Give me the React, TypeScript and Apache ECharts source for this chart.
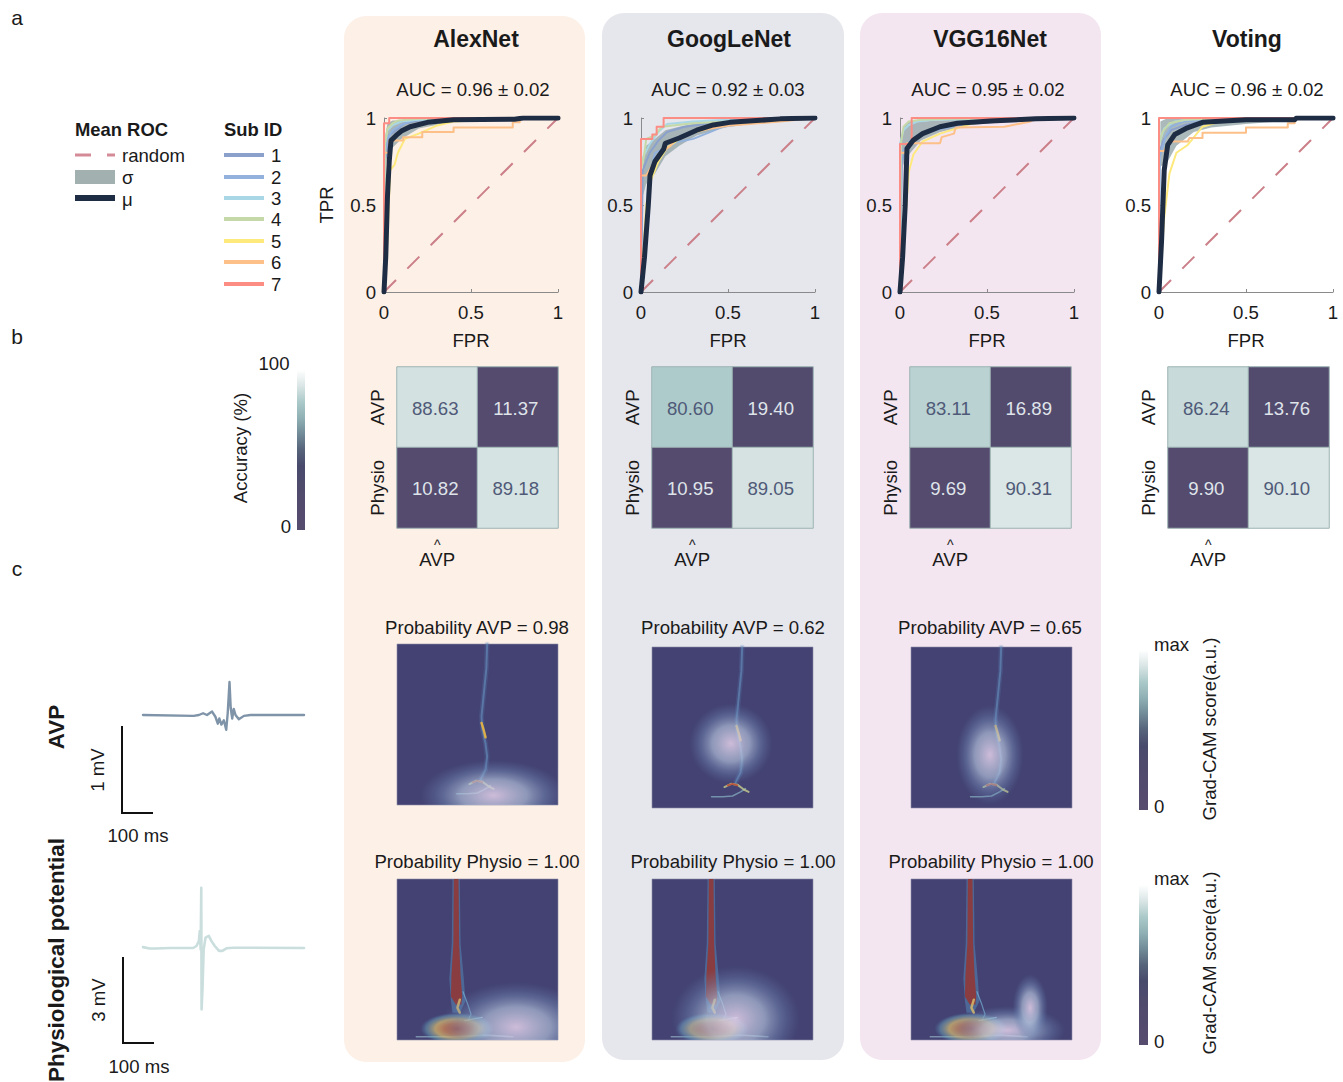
import React, { useEffect, useRef } from "react";
import * as echarts from "echarts";

const FONT = "Liberation Sans";
const BODY = 18.6;

// ---------- names ----------
const modelNames = ["AlexNet", "GoogLeNet", "VGG16Net", "Voting"];
const aucLabels = ["AUC = 0.96 ± 0.02", "AUC = 0.92 ± 0.03", "AUC = 0.95 ± 0.02", "AUC = 0.96 ± 0.02"];
const subIds = ["1", "2", "3", "4", "5", "6", "7"];
const probAvp = ["Probability AVP = 0.98", "Probability AVP = 0.62", "Probability AVP = 0.65"];
const probPhysio = ["Probability Physio = 1.00", "Probability Physio = 1.00", "Probability Physio = 1.00"];
const predictedLabels = ["AVP", "Physio"];
const trueLabels = ["Physio", "AVP"];

// ---------- confusion matrices: [AVP→AVP, AVP→Physio, Physio→AVP, Physio→Physio] ----------
const alexConfusion = [88.63, 11.37, 10.82, 89.18];
const googConfusion = [80.6, 19.4, 10.95, 89.05];
const vggConfusion = [83.11, 16.89, 9.69, 90.31];
const votingConfusion = [86.24, 13.76, 9.9, 90.1];

// ---------- ROC: mean curves ----------
const alexMean = [[0, 0], [0.01, 0.2], [0.02, 0.55], [0.03, 0.75], [0.04, 0.87], [0.07, 0.9], [0.1, 0.925], [0.15, 0.95], [0.25, 0.975], [0.4, 0.99], [0.75, 0.993], [0.8, 1], [1, 1]];
const googMean = [[0, 0], [0.02, 0.2], [0.042, 0.5], [0.052, 0.67], [0.08, 0.75], [0.13, 0.82], [0.14, 0.855], [0.22, 0.885], [0.32, 0.93], [0.415, 0.96], [0.51, 0.975], [0.8, 0.995], [1, 1]];
const vggMean = [[0, 0], [0.015, 0.2], [0.03, 0.5], [0.04, 0.825], [0.077, 0.873], [0.13, 0.91], [0.23, 0.95], [0.33, 0.97], [0.52, 0.983], [0.78, 0.995], [1, 1]];
const votingMean = [[0, 0], [0.015, 0.3], [0.03, 0.7], [0.05, 0.845], [0.09, 0.905], [0.155, 0.94], [0.25, 0.975], [0.5, 0.99], [0.78, 0.99], [0.79, 1], [1, 1]];

// ---------- ROC: sigma bands [fpr, low, high] ----------
const alexBand = [[0.008, 0.7, 0.9], [0.02, 0.8, 0.97], [0.05, 0.83, 0.985], [0.1, 0.88, 0.985], [0.2, 0.94, 0.995], [0.4, 0.98, 0.998], [0.7, 0.99, 1], [1, 1, 1]];
const googBand = [[0.01, 0.55, 0.72], [0.03, 0.62, 0.84], [0.08, 0.68, 0.88], [0.14, 0.78, 0.93], [0.22, 0.84, 0.95], [0.32, 0.9, 0.97], [0.5, 0.95, 0.99], [0.7, 0.98, 1], [1, 1, 1]];
const vggBand = [[0.008, 0.7, 0.9], [0.03, 0.76, 0.96], [0.06, 0.8, 0.98], [0.12, 0.87, 0.98], [0.23, 0.92, 0.985], [0.4, 0.96, 0.995], [0.7, 0.985, 1], [1, 1, 1]];
const votingBand = [[0.008, 0.72, 0.98], [0.05, 0.75, 1], [0.1, 0.84, 1], [0.2, 0.92, 0.995], [0.3, 0.945, 0.99], [0.5, 0.965, 0.99], [0.75, 0.985, 0.995], [1, 1, 1]];

// ---------- ROC: subject curves ----------
const alexSub1 = [[0, 0], [0, 0.75], [0.02, 0.8], [0.03, 0.9], [0.07, 0.93], [0.12, 0.97], [0.2, 0.985], [0.35, 0.99], [1, 1]];
const alexSub2 = [[0, 0], [0.005, 0.8], [0.02, 0.88], [0.05, 0.93], [0.1, 0.96], [0.17, 0.99], [0.3, 0.995], [1, 1]];
const alexSub3 = [[0, 0], [0.005, 0.85], [0.02, 0.93], [0.05, 0.96], [0.1, 0.98], [0.2, 0.99], [1, 1]];
const alexSub4 = [[0, 0], [0.005, 0.85], [0.02, 0.94], [0.05, 0.97], [0.08, 0.985], [0.2, 0.995], [1, 1]];
const alexSub5 = [[0, 0], [0.02, 0.3], [0.035, 0.7], [0.06, 0.73], [0.08, 0.8], [0.12, 0.88], [0.2, 0.91], [0.3, 0.955], [0.4, 0.98], [0.6, 0.99], [1, 1]];
const alexSub6 = [[0, 0], [0, 0.8], [0.03, 0.8], [0.03, 0.87], [0.11, 0.87], [0.11, 0.89], [0.22, 0.89], [0.22, 0.92], [0.4, 0.92], [0.4, 0.945], [0.74, 0.945], [0.74, 0.975], [0.78, 0.975], [0.78, 1], [1, 1]];
const alexSub7 = [[0, 0], [0, 0.97], [0.03, 0.97], [0.03, 1], [1, 1]];

const googSub1 = [[0, 0], [0.01, 0.7], [0.05, 0.8], [0.1, 0.87], [0.15, 0.92], [0.25, 0.95], [0.4, 0.97], [0.6, 0.99], [1, 1]];
const googSub2 = [[0, 0], [0.04, 0.6], [0.08, 0.8], [0.15, 0.83], [0.2, 0.86], [0.3, 0.88], [0.4, 0.92], [0.47, 0.95], [0.62, 0.97], [1, 1]];
const googSub3 = [[0, 0], [0, 0.75], [0.05, 0.85], [0.1, 0.92], [0.15, 0.965], [0.3, 0.98], [0.5, 0.99], [1, 1]];
const googSub4 = [[0, 0], [0, 0.7], [0.02, 0.8], [0.03, 0.88], [0.08, 0.9], [0.12, 0.95], [0.3, 0.97], [0.5, 0.98], [1, 1]];
const googSub5 = [[0, 0], [0.03, 0.5], [0.06, 0.65], [0.1, 0.75], [0.15, 0.83], [0.25, 0.9], [0.35, 0.93], [0.5, 0.97], [1, 1]];
const googSub6 = [[0, 0], [0, 0.67], [0.03, 0.67], [0.06, 0.72], [0.11, 0.8], [0.17, 0.84], [0.2, 0.88], [0.3, 0.92], [0.4, 0.94], [0.5, 0.955], [0.8, 0.98], [1, 1]];
const googSub7 = [[0, 0], [0, 0.88], [0.065, 0.88], [0.065, 0.905], [0.09, 0.905], [0.09, 0.95], [0.13, 0.95], [0.13, 1], [1, 1]];

const vggSub1 = [[0, 0], [0.01, 0.75], [0.04, 0.82], [0.08, 0.88], [0.15, 0.92], [0.3, 0.96], [0.5, 0.98], [1, 1]];
const vggSub2 = [[0, 0], [0.01, 0.8], [0.05, 0.86], [0.1, 0.9], [0.2, 0.93], [0.4, 0.97], [0.6, 0.98], [1, 1]];
const vggSub3 = [[0, 0], [0, 0.85], [0.02, 0.93], [0.05, 0.96], [0.1, 0.98], [0.2, 0.99], [1, 1]];
const vggSub4 = [[0, 0], [0.005, 0.85], [0.02, 0.95], [0.05, 0.98], [0.12, 0.99], [0.3, 0.995], [1, 1]];
const vggSub5 = [[0, 0], [0.03, 0.4], [0.05, 0.69], [0.077, 0.79], [0.13, 0.865], [0.23, 0.91], [0.42, 0.97], [0.6, 0.985], [1, 1]];
const vggSub6 = [[0, 0], [0, 0.8], [0.03, 0.8], [0.04, 0.855], [0.23, 0.855], [0.24, 0.89], [0.31, 0.91], [0.32, 0.945], [0.6, 0.95], [0.75, 0.98], [0.78, 1], [1, 1]];
const vggSub7 = [[0, 0], [0, 0.85], [0.067, 0.85], [0.067, 1], [1, 1]];

const votingSub1 = [[0, 0], [0, 0.8], [0.03, 0.88], [0.07, 0.93], [0.15, 0.96], [0.25, 0.98], [1, 1]];
const votingSub2 = [[0, 0], [0.005, 0.78], [0.04, 0.9], [0.07, 0.95], [0.14, 0.98], [0.3, 0.99], [1, 1]];
const votingSub3 = [[0, 0], [0, 0.85], [0.03, 0.94], [0.09, 0.98], [0.2, 0.995], [1, 1]];
const votingSub4 = [[0, 0], [0, 0.85], [0.02, 0.92], [0.06, 0.97], [0.15, 0.99], [0.3, 0.995], [1, 1]];
const votingSub5 = [[0, 0], [0.03, 0.43], [0.06, 0.68], [0.1, 0.8], [0.165, 0.845], [0.25, 0.95], [0.35, 0.98], [0.6, 0.99], [1, 1]];
const votingSub6 = [[0, 0], [0, 0.81], [0.03, 0.81], [0.06, 0.865], [0.165, 0.865], [0.175, 0.885], [0.25, 0.885], [0.25, 0.915], [0.5, 0.915], [0.5, 0.945], [0.74, 0.945], [0.74, 0.97], [0.78, 0.97], [0.78, 1], [1, 1]];
const votingSub7 = [[0, 0], [0, 1], [1, 1]];

const randomLine = [[0, 0], [1, 1]];

// ---------- example waveforms [ms, mV] ----------
const avpTrace = [[0, 0], [169, -0.01], [186, 0], [200, 0.02], [213, 0], [230, 0.04], [241, -0.02], [249, -0.1], [254, -0.04], [261, -0.11], [269, -0.06], [277, -0.17], [282, 0.02], [288, 0.38], [292, 0.08], [297, -0.04], [302, 0.07], [308, 0], [319, -0.05], [336, -0.01], [358, 0], [536, 0]];
const physioTrace = [[0, 0.03], [22, -0.02], [44, -0.02], [89, 0], [167, 0], [178, 0.07], [186, 0.24], [189, 0.59], [192, -0.05], [194, 2.1], [195, -2.14], [198, -1.44], [202, -0.05], [208, 0.36], [219, 0.42], [228, 0.24], [239, 0.07], [253, -0.1], [264, -0.1], [278, -0.01], [300, 0.01], [536, 0]];

// ---------- Grad-CAM overlays: glows [x, y, w, h] in panel units ----------
const alexAvpGlow = [[0.6, 0.06, 0.92, 0.44]];
const googAvpGlow = [[0.49, 0.4, 0.52, 0.5]];
const vggAvpGlow = [[0.49, 0.33, 0.42, 0.62]];
const alexPhysioGlow = [[0.74, 0.08, 0.95, 0.56]];
const googPhysioGlow = [[0.52, 0.13, 0.8, 0.66]];
const vggPhysioGlow = [[0.6, 0.06, 0.72, 0.3], [0.74, 0.2, 0.22, 0.42]];

// shared activation traces in panel units
const avpRidge = [[0.56, 1], [0.555, 0.85], [0.54, 0.7], [0.525, 0.55], [0.53, 0.47], [0.55, 0.38], [0.56, 0.3], [0.55, 0.22], [0.52, 0.16]];
const avpSpot = [[0.525, 0.51], [0.54, 0.46], [0.55, 0.42]];
const avpArcUpper = [[0.45, 0.13], [0.49, 0.15], [0.53, 0.145], [0.57, 0.115], [0.6, 0.1]];
const avpArcLower = [[0.37, 0.07], [0.44, 0.07], [0.5, 0.075], [0.55, 0.1], [0.58, 0.12]];
const avpBaseSpot = [[0.47, 0.14], [0.5, 0.15], [0.53, 0.14]];
const physioHalo = [[1, 0.345, 0.39], [0.6, 0.34, 0.395], [0.38, 0.325, 0.415], [0.24, 0.335, 0.425], [0.17, 0.345, 0.39]];
const physioCore = [[1, 0.353, 0.382], [0.6, 0.35, 0.386], [0.4, 0.338, 0.395], [0.27, 0.335, 0.405], [0.22, 0.365, 0.4]];
const physioNeck = [[0.39, 0.25], [0.375, 0.2], [0.39, 0.17]];
const physioTail = [[0.12, 0.02], [0.35, 0.02], [0.55, 0.03], [0.72, 0.02]];
const physioTwig = [[0.42, 0.12], [0.47, 0.13], [0.53, 0.14]];
const physioTwig2 = [[0.41, 0.3], [0.44, 0.22], [0.46, 0.16], [0.44, 0.12]];
const physioBaseSpot = [[0.375, 0.07, 0.46, 0.2]];

const SUB_COLORS = ["#8ba1cc", "#92b2dd", "#a9d7e6", "#c5d8a8", "#fde97c", "#fcc088", "#fb8d85"];
const CMAP = ["#564c6e", "#544b6e", "#524b6d", "#4e4b6d", "#484a6c", "#56637a", "#718b98", "#8fb0b4", "#abc9c9", "#dae5e5", "#ffffff"];
const CAM_BASE = "#434272";
const CAM_SIZE = 161;

// ---------- layout ----------
const rocLeft = [384, 641, 900, 1159];
const rocMeta = [
  { mean: alexMean, band: alexBand, subs: [alexSub1, alexSub2, alexSub3, alexSub4, alexSub5, alexSub6, alexSub7] },
  { mean: googMean, band: googBand, subs: [googSub1, googSub2, googSub3, googSub4, googSub5, googSub6, googSub7] },
  { mean: vggMean, band: vggBand, subs: [vggSub1, vggSub2, vggSub3, vggSub4, vggSub5, vggSub6, vggSub7] },
  { mean: votingMean, band: votingBand, subs: [votingSub1, votingSub2, votingSub3, votingSub4, votingSub5, votingSub6, votingSub7] },
];
const confLeft = [397, 652, 910, 1168];
const confValues = [alexConfusion, googConfusion, vggConfusion, votingConfusion];
const camBoxes = [
  { x: 397, y: 644, glow: alexAvpGlow, kind: "avp" },
  { x: 652, y: 647, glow: googAvpGlow, kind: "avp" },
  { x: 911, y: 647, glow: vggAvpGlow, kind: "avp" },
  { x: 397, y: 879, glow: alexPhysioGlow, kind: "physio" },
  { x: 652, y: 879, glow: googPhysioGlow, kind: "physio" },
  { x: 911, y: 879, glow: vggPhysioGlow, kind: "physio" },
];

function txt(text: string, x: number, y: number, size: number, opts: any = {}) {
  return {
    type: "text",
    x,
    y,
    z: 5,
    rotation: opts.rot ? Math.PI / 2 : 0,
    silent: true,
    style: {
      text,
      fontSize: size,
      fontFamily: FONT,
      fontWeight: opts.bold ? "bold" : "normal",
      fill: opts.fill || "#1a1a1a",
      textAlign: opts.align || "center",
      textVerticalAlign: "middle",
      align: opts.align || "center",
      verticalAlign: "middle",
    },
  };
}

function bar(x: number, y: number, width = 9) {
  return {
    type: "rect",
    z: 1,
    silent: true,
    shape: { x, y, width, height: 160 },
    style: {
      fill: new echarts.graphic.LinearGradient(0, 1, 0, 0, CMAP.map((color, i) => ({ offset: i / 10, color }))),
    },
  };
}

function bandSeries(grid: number, rows: number[][], fill: string, vertical = false, z = 2) {
  return {
    type: "custom",
    coordinateSystem: "cartesian2d",
    xAxisIndex: grid,
    yAxisIndex: grid,
    data: rows,
    silent: true,
    z,
    renderItem: (params: any, api: any) => {
      if (params.dataIndex !== 0) return null;
      const a = rows.map((r) => api.coord(vertical ? [r[1], r[0]] : [r[0], r[2]]));
      const b = rows.map((r) => api.coord(vertical ? [r[2], r[0]] : [r[0], r[1]])).reverse();
      return { type: "polygon", shape: { points: [...a, ...b] }, style: { fill } };
    },
  };
}

function lineSeries(grid: number, data: number[][], color: string, width: number, extra: any = {}) {
  return {
    type: "line",
    xAxisIndex: grid,
    yAxisIndex: grid,
    data,
    symbol: "none",
    silent: true,
    smooth: false,
    lineStyle: { color, width, join: "round", cap: "round", ...(extra.line || {}) },
    z: extra.z || 2,
  };
}

function glowSeries(grid: number, data: number[][], colorStops: any[]) {
  return {
    type: "custom",
    coordinateSystem: "cartesian2d",
    xAxisIndex: grid,
    yAxisIndex: grid,
    data,
    silent: true,
    clip: true,
    z: 3,
    renderItem: (_params: any, api: any) => {
      const c = api.coord([api.value(0), api.value(1)]);
      return {
        type: "ellipse",
        shape: { cx: c[0], cy: c[1], rx: (api.value(2) * CAM_SIZE) / 2, ry: (api.value(3) * CAM_SIZE) / 2 },
        style: { fill: { type: "radial", x: 0.5, y: 0.5, r: 0.5, colorStops } },
      };
    },
  };
}

const GLOW_STOPS = [
  { offset: 0, color: "rgba(228,208,234,0.86)" },
  { offset: 0.45, color: "rgba(178,192,218,0.68)" },
  { offset: 0.78, color: "rgba(112,140,185,0.32)" },
  { offset: 1, color: "rgba(100,120,170,0)" },
];
const HOT_STOPS = [
  { offset: 0, color: "rgba(168,85,70,0.95)" },
  { offset: 0.35, color: "rgba(192,120,80,0.9)" },
  { offset: 0.6, color: "rgba(214,184,110,0.75)" },
  { offset: 0.85, color: "rgba(110,170,190,0.45)" },
  { offset: 1, color: "rgba(80,130,180,0)" },
];

function buildOption() {
  const grids: any[] = [];
  const xAxes: any[] = [];
  const yAxes: any[] = [];
  const series: any[] = [];

  const hiddenAxis = (min: number, max: number, gridIndex: number) => ({
    type: "value",
    min,
    max,
    gridIndex,
    show: false,
    splitLine: { show: false },
  });

  // ROC grids 0-3
  const rocAxisBase = {
    type: "value",
    min: 0,
    max: 1,
    interval: 0.5,
    splitLine: { show: false },
    axisLine: { show: true, lineStyle: { color: "#8a8a8a", width: 1 } },
    axisTick: { show: true, inside: true, length: 3, lineStyle: { color: "#8a8a8a" } },
  };
  rocLeft.forEach((left, g) => {
    grids.push({ left, top: 118, width: 174, height: 174 });
    xAxes.push({
      ...rocAxisBase,
      gridIndex: g,
      name: "FPR",
      nameLocation: "middle",
      nameGap: 39,
      nameTextStyle: { fontSize: BODY, fontFamily: FONT, color: "#1a1a1a" },
      axisLabel: { fontSize: BODY, fontFamily: FONT, color: "#1a1a1a", margin: 11, formatter: (v: number) => String(v) },
    });
    yAxes.push({
      ...rocAxisBase,
      gridIndex: g,
      name: g === 0 ? "TPR" : "",
      nameLocation: "middle",
      nameGap: 48,
      nameTextStyle: { fontSize: BODY, fontFamily: FONT, color: "#1a1a1a" },
      axisLabel: { fontSize: BODY, fontFamily: FONT, color: "#1a1a1a", margin: 8, formatter: (v: number) => String(v) },
    });
    const m = rocMeta[g];
    series.push(lineSeries(g, randomLine, "#cb7f88", 2, { line: { type: [17, 16], cap: "butt" } }));
    series.push(bandSeries(g, m.band, "rgba(150,168,170,0.8)"));
    m.subs.forEach((s, i) => series.push(lineSeries(g, s, SUB_COLORS[i], 2)));
    series.push(lineSeries(g, m.mean, "#1f2d44", 5, { z: 3 }));
  });

  // signal grids 4-5
  grids.push({ left: 143, top: 628, width: 161, height: 174 });
  xAxes.push(hiddenAxis(0, 536, 4));
  yAxes.push(hiddenAxis(-1, 1, 4));
  series.push(lineSeries(4, avpTrace, "#7f94a8", 2.4));
  grids.push({ left: 143, top: 862, width: 161, height: 172 });
  xAxes.push(hiddenAxis(0, 536, 5));
  yAxes.push(hiddenAxis(-3, 3, 5));
  series.push(lineSeries(5, physioTrace, "#c9dedd", 2.6));

  // confusion grids 6-9
  const confIndices: number[] = [];
  confLeft.forEach((left, i) => {
    const g = 6 + i;
    grids.push({ left, top: 367, width: 161, height: 161 });
    xAxes.push({
      type: "category",
      gridIndex: g,
      data: predictedLabels,
      splitArea: { show: false },
      axisLine: { show: false },
      axisTick: { show: false },
      axisLabel: {
        fontSize: BODY,
        fontFamily: FONT,
        color: "#1a1a1a",
        margin: 12,
        formatter: (v: string) => `{hat|^}\n{name|${v}}`,
        rich: {
          hat: { fontSize: 14, lineHeight: 9, fontFamily: FONT, color: "#1a1a1a", align: "center" },
          name: { fontSize: BODY, lineHeight: 20, fontFamily: FONT, color: "#1a1a1a", align: "center" },
        },
      },
    });
    yAxes.push({
      type: "category",
      gridIndex: g,
      data: trueLabels,
      splitArea: { show: false },
      axisLine: { show: false },
      axisTick: { show: false },
      axisLabel: { fontSize: BODY, fontFamily: FONT, color: "#1a1a1a", rotate: 90, margin: 10 },
    });
    const v = confValues[i];
    const cells = [[0, 1, v[0]], [1, 1, v[1]], [0, 0, v[2]], [1, 0, v[3]]];
    confIndices.push(series.length);
    series.push({
      type: "heatmap",
      xAxisIndex: g,
      yAxisIndex: g,
      silent: true,
      itemStyle: { borderColor: "#9db3b3", borderWidth: 1 },
      label: { show: true, fontSize: BODY, fontFamily: FONT, offset: [-2, 1] },
      data: cells.map((c) => ({
        value: c,
        label: { show: true, color: c[2] > 50 ? "#4f5a78" : "#dfe4ea", formatter: c[2].toFixed(2) },
      })),
    });
  });

  // Grad-CAM grids 10-15
  const camBases: any[] = [];
  camBoxes.forEach((box, i) => {
    const g = 10 + i;
    grids.push({ left: box.x, top: box.y, width: CAM_SIZE, height: CAM_SIZE });
    xAxes.push(hiddenAxis(0, 1, g));
    yAxes.push(hiddenAxis(0, 1, g));
    camBases.push({
      type: "rect",
      z: 1,
      silent: true,
      shape: { x: box.x, y: box.y, width: CAM_SIZE, height: CAM_SIZE },
      style: { fill: CAM_BASE, stroke: "#8f8fa8", lineWidth: 0.6 },
    });
    if (box.kind === "avp") {
      series.push(lineSeries(g, avpRidge, "rgba(90,130,185,0.22)", 5));
      series.push(lineSeries(g, avpRidge, "rgba(105,155,200,0.5)", 2));
      series.push(lineSeries(g, avpArcLower, "rgba(150,200,210,0.6)", 1.6));
      series.push(lineSeries(g, avpArcUpper, "rgba(200,205,140,0.8)", 2));
      series.push(lineSeries(g, avpBaseSpot, "#b8593f", 1.8));
      series.push(lineSeries(g, avpSpot, "#dcae4a", 2.4));
    } else {
      series.push(bandSeries(g, physioHalo, "rgba(85,135,180,0.55)", true));
      series.push(bandSeries(g, physioCore, "#8a3d40", true));
      series.push(lineSeries(g, physioNeck, "rgba(215,185,105,0.85)", 2.5));
      series.push(lineSeries(g, physioTail, "rgba(170,210,220,0.55)", 1.6));
      series.push(lineSeries(g, physioTwig2, "rgba(120,180,215,0.7)", 1.2));
      series.push(lineSeries(g, physioTwig, "rgba(150,200,220,0.8)", 1.2));
      series.push(glowSeries(g, physioBaseSpot, HOT_STOPS));
    }
    series.push(glowSeries(g, box.glow, GLOW_STOPS));
  });

  const panelRect = (x: number, y: number, width: number, height: number, fill: string) => ({
    type: "rect",
    z: 0,
    silent: true,
    shape: { x, y, width, height, r: 22 },
    style: { fill },
  });

  const graphic: any[] = [
    panelRect(344, 16, 241, 1046, "#fdf0e7"),
    panelRect(602, 13, 242, 1047, "#e6e6ed"),
    panelRect(860, 13, 241, 1047, "#f4e6f0"),
    ...camBases,
    txt("a", 17, 17, 21),
    txt("b", 17, 336, 21),
    txt("c", 17, 568, 21),
    txt(modelNames[0], 476, 39, 23, { bold: true }),
    txt(modelNames[1], 729, 39, 23, { bold: true }),
    txt(modelNames[2], 990, 39, 23, { bold: true }),
    txt(modelNames[3], 1247, 39, 23, { bold: true }),
    txt(aucLabels[0], 473, 89, BODY),
    txt(aucLabels[1], 728, 89, BODY),
    txt(aucLabels[2], 988, 89, BODY),
    txt(aucLabels[3], 1247, 89, BODY),
    // legends
    txt("Mean ROC", 75, 129, 18.4, { bold: true, align: "left" }),
    txt("Sub ID", 224, 129, 18.4, { bold: true, align: "left" }),
    { type: "line", z: 1, silent: true, shape: { x1: 75, y1: 155, x2: 91, y2: 155 }, style: { stroke: "#d58a98", lineWidth: 3 } },
    { type: "line", z: 1, silent: true, shape: { x1: 107, y1: 155, x2: 115, y2: 155 }, style: { stroke: "#d58a98", lineWidth: 3 } },
    { type: "rect", z: 1, silent: true, shape: { x: 75, y: 170, width: 40, height: 14 }, style: { fill: "#a2b0b0" } },
    { type: "rect", z: 1, silent: true, shape: { x: 75, y: 195, width: 40, height: 6 }, style: { fill: "#1f2d44" } },
    txt("random", 122, 155, BODY, { align: "left" }),
    txt("σ", 122, 177, BODY, { align: "left" }),
    txt("μ", 122, 199, BODY, { align: "left" }),
    ...subIds.flatMap((id, i) => {
      const y = [155, 177, 198, 219, 241, 262, 284][i];
      return [
        { type: "rect", z: 1, silent: true, shape: { x: 224, y: y - 2, width: 40, height: 4 }, style: { fill: SUB_COLORS[i] } },
        txt(id, 271, y, BODY, { align: "left" }),
      ];
    }),
    // accuracy bar
    bar(297, 370, 8),
    txt("Accuracy (%)", 240, 448, BODY, { rot: true }),
    txt("100", 274, 363, BODY),
    txt("0", 286, 526, BODY),
    // probabilities
    txt(probAvp[0], 477, 627, BODY),
    txt(probAvp[1], 733, 627, BODY),
    txt(probAvp[2], 990, 627, BODY),
    txt(probPhysio[0], 477, 861, BODY),
    txt(probPhysio[1], 733, 861, BODY),
    txt(probPhysio[2], 991, 861, BODY),
    // grad-cam bars
    bar(1139, 650),
    bar(1139, 885),
    txt("max", 1154, 644, BODY, { align: "left" }),
    txt("0", 1154, 806, BODY, { align: "left" }),
    txt("max", 1154, 878, BODY, { align: "left" }),
    txt("0", 1154, 1041, BODY, { align: "left" }),
    txt("Grad-CAM score(a.u.)", 1209, 729, BODY, { rot: true }),
    txt("Grad-CAM score(a.u.)", 1209, 963, BODY, { rot: true }),
    // signal labels
    txt("AVP", 56, 727, 22.4, { rot: true, bold: true }),
    txt("Physiological potential", 56, 960, 22.4, { rot: true, bold: true }),
    txt("1 mV", 97, 770, BODY, { rot: true }),
    txt("100 ms", 138, 835, BODY),
    txt("3 mV", 98, 1000, BODY, { rot: true }),
    txt("100 ms", 139, 1066, BODY),
    { type: "polyline", z: 1, silent: true, shape: { points: [[122, 726], [122, 813], [153, 813]] }, style: { stroke: "#111", lineWidth: 2, fill: "none" } },
    { type: "polyline", z: 1, silent: true, shape: { points: [[123, 957], [123, 1043], [154, 1043]] }, style: { stroke: "#111", lineWidth: 2, fill: "none" } },
  ];

  return {
    animation: false,
    backgroundColor: "#ffffff",
    tooltip: { show: false },
    grid: grids,
    xAxis: xAxes,
    yAxis: yAxes,
    visualMap: {
      type: "continuous",
      show: false,
      min: 0,
      max: 100,
      seriesIndex: confIndices,
      dimension: 2,
      inRange: { color: CMAP },
    },
    graphic: { elements: graphic },
    series,
  };
}

export default function App() {
  const ref = useRef<HTMLDivElement>(null);
  useEffect(() => {
    const chart = echarts.init(ref.current!, undefined, { renderer: "svg" });
    chart.setOption(buildOption() as any);
    return () => chart.dispose();
  }, []);
  return <div ref={ref} style={{ position: "absolute", left: 0, top: 0, width: 1343, height: 1082 }} />;
}
